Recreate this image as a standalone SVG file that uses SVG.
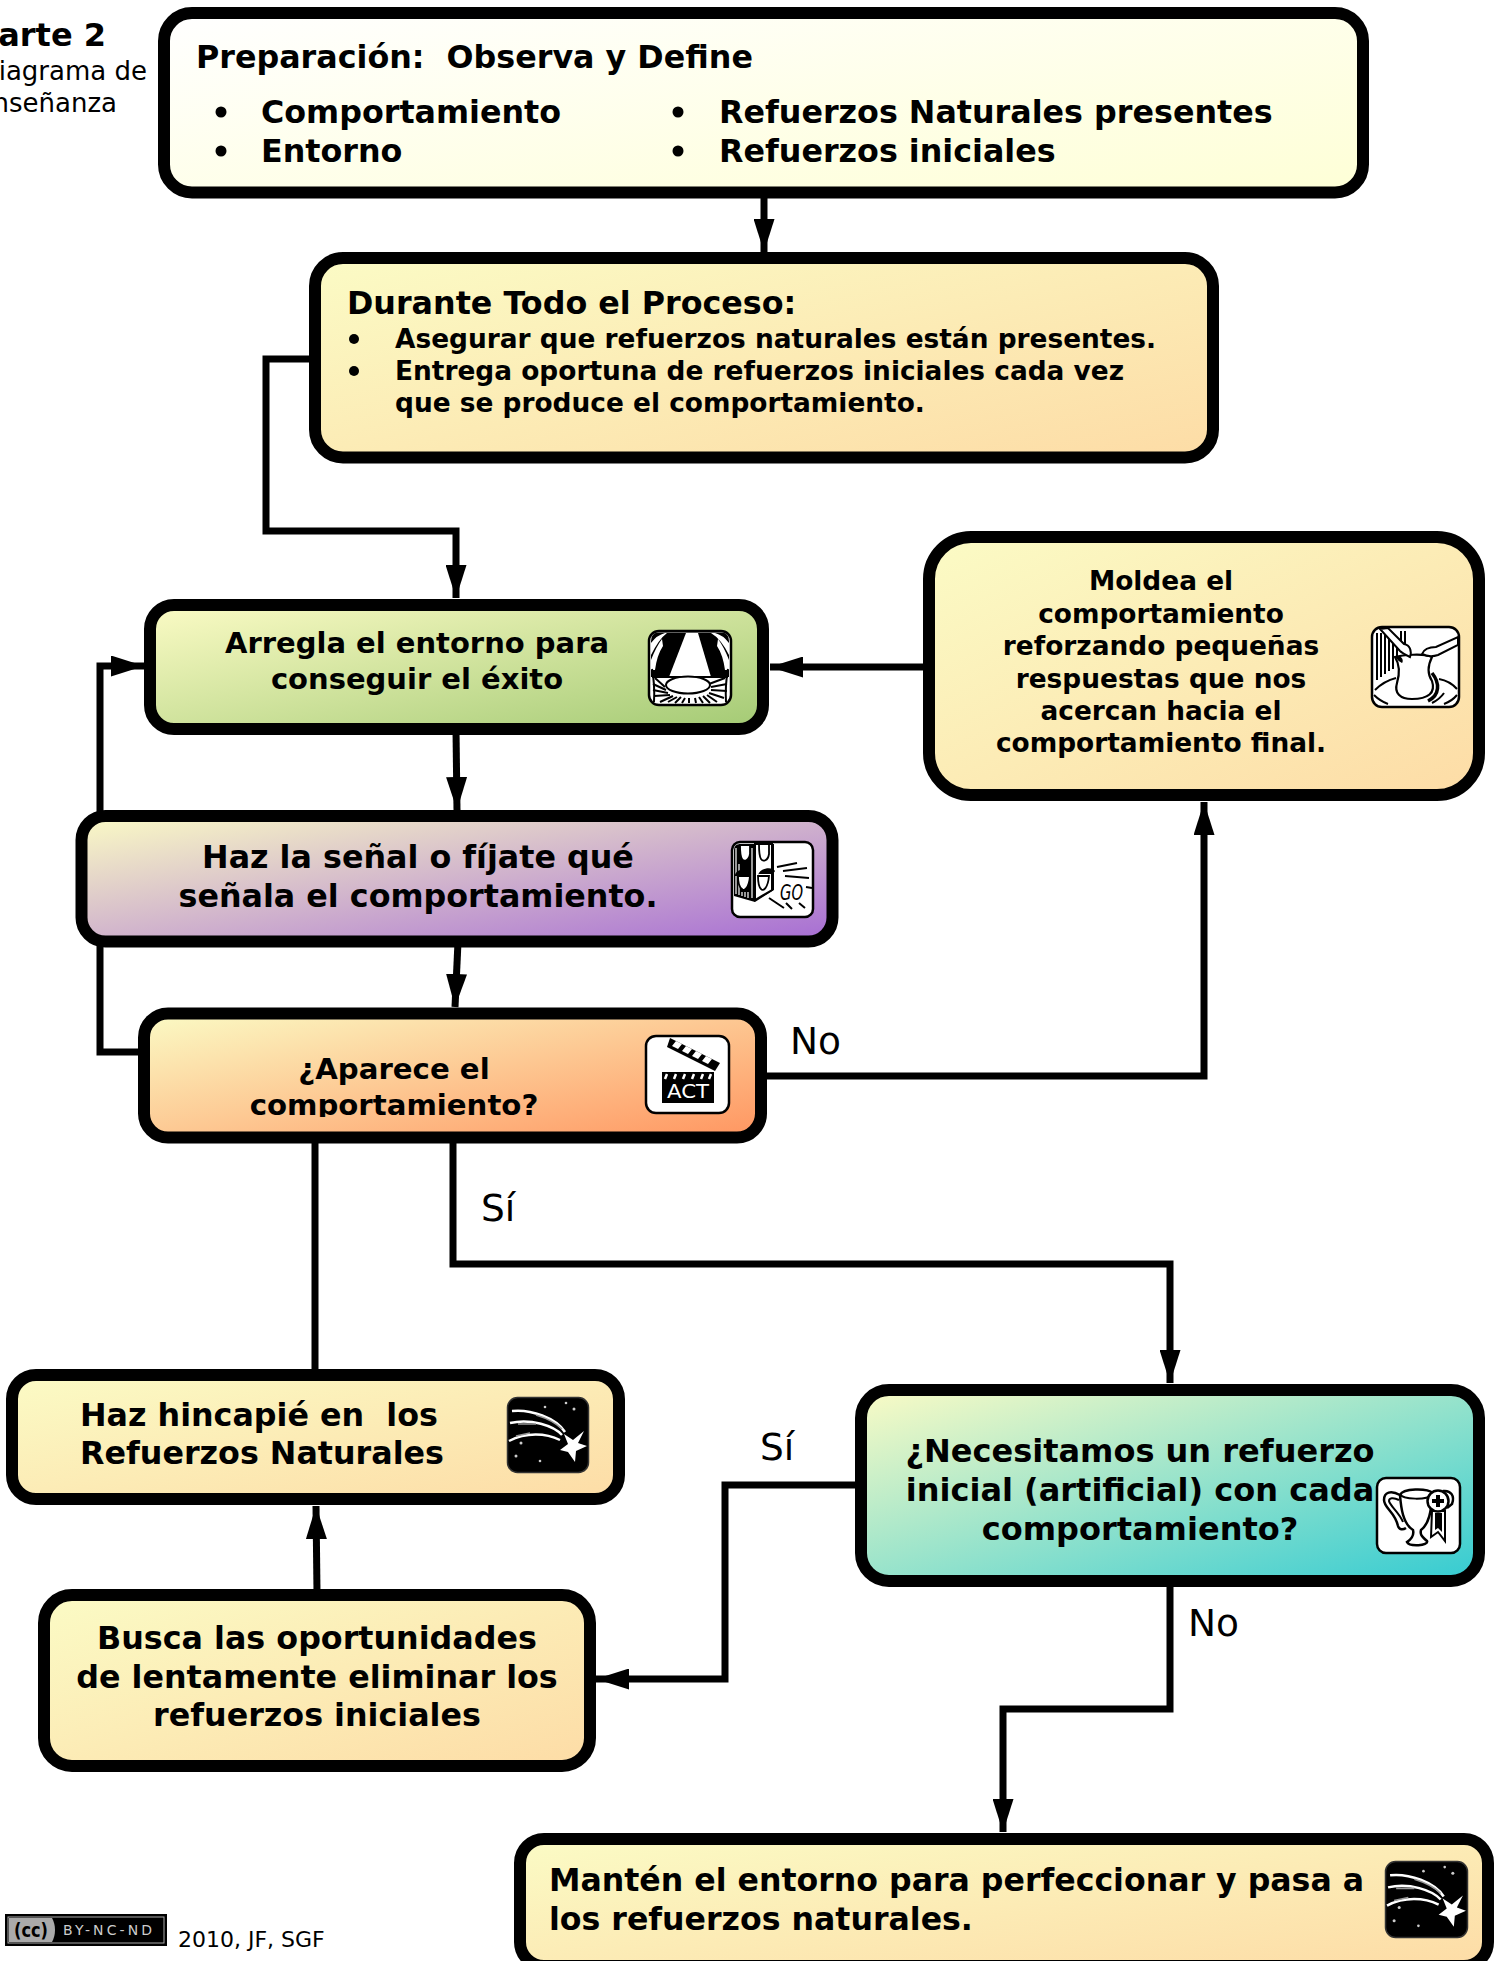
<svg xmlns="http://www.w3.org/2000/svg" width="1497" height="1961" viewBox="0 0 1497 1961">
<style>
.box{stroke:#000;stroke-width:12;}
.t{font-family:"DejaVu Sans",Verdana,sans-serif;font-weight:bold;fill:#000;}
.n{font-family:"DejaVu Sans",Verdana,sans-serif;fill:#000;}
.c{text-anchor:middle;}
.s32{font-size:31.75px;}.s30{font-size:29px;}.s28{font-size:26.4px;}.s29{font-size:29.2px;}
.lab{font-size:37.5px;}
.con{fill:none;stroke:#000;stroke-width:7;stroke-linejoin:miter;}
.ico{fill:#fff;stroke:#000;stroke-width:2.5;}
.l{fill:none;stroke:#000;stroke-width:2;}
.w{fill:none;stroke:#fff;stroke-width:2.5;}
</style>
<defs>
<linearGradient id="gP" x1="0" y1="0" x2="1" y2="1"><stop offset="0" stop-color="#ffffff"/><stop offset="1" stop-color="#feffd6"/></linearGradient>
<linearGradient id="gY" x1="0" y1="0" x2="1" y2="1"><stop offset="0" stop-color="#fbfbc5"/><stop offset="1" stop-color="#fddca6"/></linearGradient>
<linearGradient id="gG" x1="0" y1="0" x2="1" y2="1"><stop offset="0" stop-color="#fbfbc5"/><stop offset="1" stop-color="#a3ca74"/></linearGradient>
<linearGradient id="gV" x1="0" y1="0" x2="1" y2="1"><stop offset="0" stop-color="#fbfbc5"/><stop offset="1" stop-color="#a66cd4"/></linearGradient>
<linearGradient id="gO" x1="0" y1="0" x2="1" y2="1"><stop offset="0" stop-color="#fbfbc5"/><stop offset="1" stop-color="#ff9560"/></linearGradient>
<linearGradient id="gT" x1="0" y1="0" x2="1" y2="1"><stop offset="0" stop-color="#fbfbc5"/><stop offset="1" stop-color="#33cbd2"/></linearGradient>
<clipPath id="actClip"><rect x="200" y="1085" width="400" height="32"/></clipPath>
<marker id="a" markerUnits="userSpaceOnUse" viewBox="0 0 33 21" refX="33" refY="10.500" markerWidth="33" markerHeight="21" orient="auto"><path d="M0 0L33 10.500L0 21z" fill="#000"/></marker>
<symbol id="star" viewBox="0 0 84 78">
<rect x="1.500" y="1.500" width="81" height="75" rx="10" fill="#000" stroke="#333" stroke-width="1.500"/>
<path class="w" d="M6 15C25 13 50 22 59 36"/><path class="w" d="M4 27C25 22 48 30 56 39"/><path class="w" d="M3 45C20 36 40 37 54 44"/>
<path d="M30 19C40 22 50 27 56 33M12 28H30M10 40L24 37" fill="none" stroke="#999" stroke-width="1.500"/>
<path d="M78 35L72 47L81 50L70 55L69 66L62 56L54 54L62 48L58 38L67 44z" fill="#fff"/>
<circle cx="39" cy="11" r="1.300" fill="#ccc"/><circle cx="60" cy="7" r="1.300" fill="#ccc"/><circle cx="68" cy="13" r="1.500" fill="#ccc"/><circle cx="15" cy="47" r="1.500" fill="#ccc"/><circle cx="10" cy="60" r="1.500" fill="#ccc"/><circle cx="34" cy="65" r="1.300" fill="#ccc"/>
</symbol>
</defs>
<g id="connectors">
<path class="con" d="M764 198V252" marker-end="url(#a)"/>
<path class="con" d="M312 359H266V531H456V598" marker-end="url(#a)"/>
<path class="con" d="M928 667H770" marker-end="url(#a)"/>
<path class="con" d="M456 730L457 810" marker-end="url(#a)"/>
<path class="con" d="M458 942L455 1007" marker-end="url(#a)"/>
<path class="con" d="M140 1052H100V666H144" marker-end="url(#a)"/>
<path class="con" d="M762 1076H1204V802" marker-end="url(#a)"/>
<path class="con" d="M453 1138V1264H1170V1383" marker-end="url(#a)"/>
<path class="con" d="M315 1138V1372"/>
<path class="con" d="M858 1485H725V1679H596" marker-end="url(#a)"/>
<path class="con" d="M317 1592L316 1506" marker-end="url(#a)"/>
<path class="con" d="M1170 1582V1709H1003V1832" marker-end="url(#a)"/>
</g>
<g id="title">
<text class="t" x="106" y="46" font-size="32" text-anchor="end">Parte 2</text>
<text class="n" x="147" y="80" font-size="26" text-anchor="end">Diagrama de</text>
<text class="n" x="117" y="112" font-size="26" text-anchor="end">Enseñanza</text>
</g>
<g id="n-preparacion">
<rect class="box" x="164" y="13" width="1199" height="179.500" rx="28" fill="url(#gP)"/>
<text class="t s32" x="196" y="68" xml:space="preserve">Preparación:  Observa y Define</text>
<circle cx="221" cy="112" r="5.500"/><circle cx="221" cy="151" r="5.500"/><circle cx="678" cy="112" r="5.500"/><circle cx="678" cy="151" r="5.500"/>
<text class="t s32" x="261" y="123">Comportamiento</text><text class="t s32" x="261" y="162">Entorno</text>
<text class="t s32" x="719" y="123">Refuerzos Naturales presentes</text><text class="t s32" x="719" y="162">Refuerzos iniciales</text>
</g>
<g id="n-durante">
<rect class="box" x="315" y="258" width="898" height="199.500" rx="28" fill="url(#gY)"/>
<text class="t s32" x="347" y="314">Durante Todo el Proceso:</text>
<circle cx="354" cy="339" r="5"/><circle cx="354" cy="371" r="5"/>
<text class="t s28" x="395" y="348">Asegurar que refuerzos naturales están presentes.</text>
<text class="t s28" x="395" y="380">Entrega oportuna de refuerzos iniciales cada vez</text>
<text class="t s28" x="395" y="412">que se produce el comportamiento.</text>
</g>
<g id="n-arregla">
<rect class="box" x="150" y="605" width="613" height="124" rx="24" fill="url(#gG)"/>
<text class="t s30 c" x="417" y="653">Arregla el entorno para</text>
<text class="t s30 c" x="417" y="689">conseguir el éxito</text>
<g id="icon-curtain" transform="translate(649 631)">
<rect class="ico" width="82" height="74" rx="10"/>
<path d="M10 1.500H72Q80 1.500 80 10V46H2V10Q2 1.500 10 1.500z" fill="#000"/>
<path d="M37 2H49L62 46H20z" fill="#fff"/>
<path d="M2 12Q8 4 16 2L18 2Q10 8 2 24zM2 29Q7 16 13 8L14 15Q8 24 6 39H2zM80 12Q74 4 66 2L62 2Q72 8 80 24zM80 29Q75 16 69 8L68 15Q74 24 76 39H80z" fill="#fff"/>
<path d="M3 46H79V64Q79 72 72 72H10Q3 72 3 64z" fill="#fff"/>
<path class="l" stroke-width="1.800" d="M6 47L16 56M4 53L17 59M4 59L19 62M5 65L21 64M11 71L24 65M19 71L28 66M26 72L32 66M33 72L36 67M40 72V67M47 72L46 67M54 72L50 66M61 72L54 65M68 71L58 64M75 67L60 62M78 60L62 59M78 53L62 56M76 47L60 53"/>
<path class="l" d="M3 46H79"/>
<path class="l" stroke-width="2.500" d="M3 38Q6 54 5 71M79 38Q76 54 77 71"/>
<ellipse cx="39" cy="54" rx="22" ry="8.500" fill="#fff" stroke="#000" stroke-width="2"/>
</g>
</g>
<g id="n-moldea">
<rect class="box" x="929" y="537" width="550" height="258" rx="42" fill="url(#gY)"/>
<text class="t s28 c" x="1161" y="590">Moldea el</text>
<text class="t s28 c" x="1161" y="623">comportamiento</text>
<text class="t s28 c" x="1161" y="655">reforzando pequeñas</text>
<text class="t s28 c" x="1161" y="688">respuestas que nos</text>
<text class="t s28 c" x="1161" y="720">acercan hacia el</text>
<text class="t s28 c" x="1161" y="752">comportamiento final.</text>
<g id="icon-pot" transform="translate(1372 627)">
<rect class="ico" width="87" height="80" rx="10"/>
<path class="l" stroke-width="1.800" d="M5 6V53M9 6V50M13 6V47M17 10V44M21 12V42M25 10V34M29 4V20M33 4V24"/>
<path d="M3 63Q12 54 24 51M2 68Q8 74 16 77M67 52Q78 54 85 62M85 68Q80 74 72 77M60 76Q68 72 72 66" class="l"/>
<path d="M23 30C30 28 52 26 60 30C55 40 56 48 60 54C64 66 56 72 40 72C28 72 22 66 25 56C28 46 28 38 23 30z" fill="#fff" stroke="#000" stroke-width="2.200"/>
<path d="M60 46C68 56 68 68 56 74" fill="none" stroke="#000" stroke-width="3.500"/>
<path d="M23 30C30 27 32 34 30 36Q26 34 23 30z" fill="#000"/>
<path d="M8 2L16 1L32 17C38 18 40 24 38 30C34 28 30 26 28 24z" fill="#fff" stroke="#000" stroke-width="2"/>
<path d="M86 10V18L66 28C60 30 56 30 50 27C52 22 58 20 64 20z" fill="#fff" stroke="#000" stroke-width="2"/>
</g>
</g>
<g id="n-senal">
<rect class="box" x="81.500" y="816" width="751" height="125.500" rx="24" fill="url(#gV)"/>
<text class="t s32 c" x="418" y="868">Haz la señal o fíjate qué</text>
<text class="t s32 c" x="418" y="907">señala el comportamiento.</text>
<g id="icon-go" transform="translate(732 842)">
<rect class="ico" width="81" height="75" rx="8"/>
<path d="M2 8Q2 2 8 2H42V48L23 60L2 54z" fill="#000"/>
<path d="M23 2V58L40 48V2z" fill="#fff" stroke="#000" stroke-width="2"/>
<path d="M4 6V52M7 22V53M10 50V54M13 50V55M16 50V56M20 6V56" stroke="#fff" stroke-width="1.200"/>
<path d="M8 3H18V12C17 19 12 20 10 17C8 14 8 10 8 3zM6 34H18C17 46 12 50 10 47C7 45 6 40 6 34zM27 2H37V12C36 19 31 20 29 17C27 14 27 10 27 2zM26 34H37C36 46 31 50 29 47C27 45 26 40 26 34z" fill="#fff" stroke="#000" stroke-width="1.800"/>
<path d="M3 33C4 27 16 25 19 29L19 34H3zM26 33C28 26 40 24 43 29L41 32H26z" fill="#000"/>
<path class="l" stroke-width="1.600" d="M45 25L65 21M51 29L75 26M53 34L77 36M74 45L80 46M37 56L52 66M54 61L60 67M67 61L73 66"/>
<text x="48" y="58" font-family="'DejaVu Sans',sans-serif" font-style="italic" font-size="22" fill="#000" textLength="23" lengthAdjust="spacingAndGlyphs">GO</text>
</g>
</g>
<g id="n-aparece">
<rect class="box" x="144" y="1013.500" width="617" height="124" rx="24" fill="url(#gO)"/>
<text class="t s29 c" x="394" y="1079">¿Aparece el</text>
<text class="t s29 c" x="394" y="1115" clip-path="url(#actClip)">comportamiento?</text>
<g id="icon-act" transform="translate(646 1036)">
<rect class="ico" width="83" height="77" rx="10"/>
<path d="M24 2L74 27L69 35L21 11z" fill="#000"/>
<path d="M30 5L26 10L32 13L36 8zM40 10L36 15L42 18L46 13zM50 15L46 20L52 23L56 18zM60 20L56 25L62 28L66 23z" fill="#fff"/>
<path d="M16 36H68V67H16z" fill="#000"/>
<path d="M21 38L19 43M30 38L28 43M39 38L37 43M48 38L46 43M57 38L55 43M65 38L63 43" stroke="#fff" stroke-width="2.500"/>
<text x="42" y="62" text-anchor="middle" font-family="'DejaVu Sans',sans-serif" font-size="20" fill="#fff" textLength="42" lengthAdjust="spacingAndGlyphs">ACT</text>
</g>
</g>
<g id="n-hincapie">
<rect class="box" x="12" y="1375" width="607" height="124" rx="24" fill="url(#gY)"/>
<text class="t s32" x="80" y="1426" xml:space="preserve">Haz hincapié en  los</text>
<text class="t s32" x="80" y="1464">Refuerzos Naturales</text>
<use id="icon-star1" href="#star" x="506" y="1396" width="84" height="78"/>
</g>
<g id="n-busca">
<rect class="box" x="44" y="1595" width="546" height="171" rx="28" fill="url(#gY)"/>
<text class="t s32 c" x="317" y="1649">Busca las oportunidades</text>
<text class="t s32 c" x="317" y="1688">de lentamente eliminar los</text>
<text class="t s32 c" x="317" y="1726">refuerzos iniciales</text>
</g>
<g id="n-necesitamos">
<rect class="box" x="861" y="1390" width="618" height="191" rx="28" fill="url(#gT)"/>
<text class="t c" font-size="32" x="1140" y="1462">¿Necesitamos un refuerzo</text>
<text class="t c" font-size="32" x="1140" y="1501">inicial (artificial) con cada</text>
<text class="t c" font-size="32" x="1140" y="1540">comportamiento?</text>
<g id="icon-trophy" transform="translate(1377 1478)">
<rect class="ico" width="83" height="75" rx="9"/>
<path d="M23 17C26 10 50 10 56 15C54 34 52 46 44 52C43 56 44 58 50 63C52 68 32 69 30 64C36 60 37 56 36 52C26 46 24 30 23 17z" fill="#fff" stroke="#000" stroke-width="2.500"/>
<path d="M23 16C26 22 50 22 55 17" fill="none" stroke="#000" stroke-width="2"/>
<path d="M23 17C14 12 7 14 7 22C7 30 18 34 21 48C22 52 26 52 29 50" fill="none" stroke="#000" stroke-width="2.500"/>
<path d="M22 22C16 19 12 20 12 23C13 28 22 34 26 44" fill="none" stroke="#000" stroke-width="2"/>
<path d="M66 13C74 12 78 18 75 26L70 30" fill="none" stroke="#000" stroke-width="2.500"/>
<path d="M55 33H68V63L61 54L54 59z" fill="#fff" stroke="#000" stroke-width="2"/>
<path d="M58 35H65V54L61 50L58 52z" fill="#000"/>
<circle cx="61" cy="23" r="10.500" fill="#fff" stroke="#000" stroke-width="2.500"/>
<path d="M61 17V29M55 23H67" stroke="#000" stroke-width="4"/>
</g>
</g>
<g id="n-manten">
<rect class="box" x="520" y="1839" width="968" height="127" rx="24" fill="url(#gY)"/>
<text class="t" font-size="31.600" x="549" y="1891">Mantén el entorno para perfeccionar y pasa a</text>
<text class="t" font-size="31.600" x="549" y="1930">los refuerzos naturales.</text>
<use id="icon-star2" href="#star" x="1384" y="1859" width="85" height="81"/>
</g>
<g id="labels">
<text class="n lab" x="790" y="1054">No</text>
<text class="n lab" x="481" y="1221">Sí</text>
<text class="n lab" x="760" y="1460">Sí</text>
<text class="n lab" x="1188" y="1636">No</text>
</g>
<g id="license">
<rect x="5" y="1914" width="162" height="32" fill="#000"/>
<rect x="8" y="1917" width="156" height="26" fill="none" stroke="#aaa" stroke-width="1"/>
<path d="M9 1918H52C56 1925 56 1935 52 1942H9z" fill="#aaa"/>
<text x="31" y="1937" text-anchor="middle" font-family="'DejaVu Sans',sans-serif" font-weight="bold" font-size="20" fill="#000" textLength="34" lengthAdjust="spacingAndGlyphs">(cc)</text>
<text x="63" y="1935" font-family="'DejaVu Sans',sans-serif" font-size="14" fill="#ccc" textLength="89" lengthAdjust="spacing">BY-NC-ND</text>
<text class="n" x="178" y="1947" font-size="22">2010, JF, SGF</text>
</g>
</svg>
